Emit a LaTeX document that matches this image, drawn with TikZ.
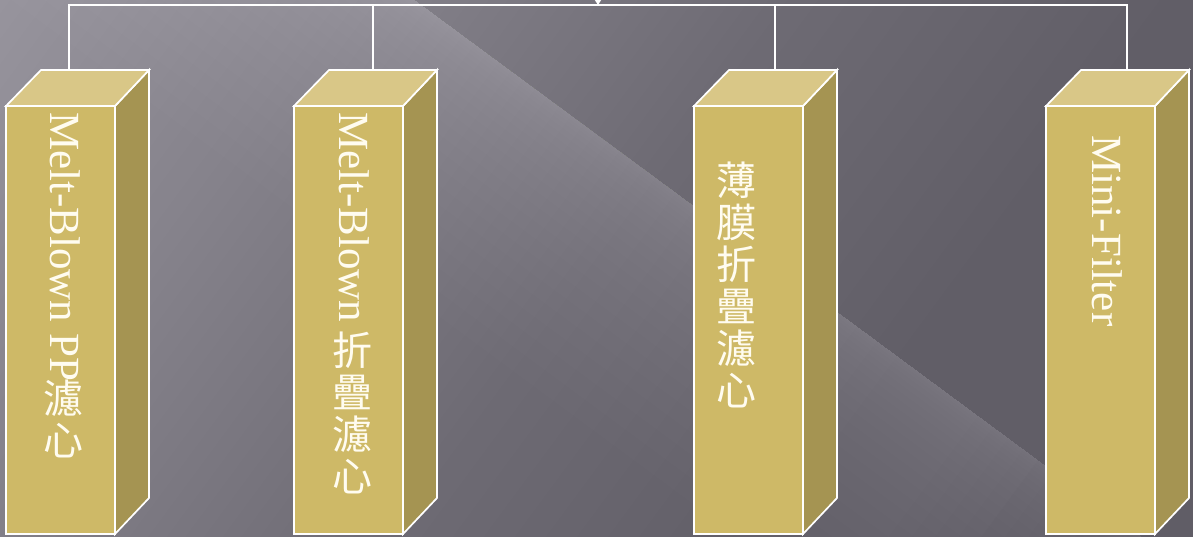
\documentclass[tikz,border=0pt]{standalone}
\usepackage{fontspec}
\setmainfont{Liberation Serif}
\newfontfamily\cjk{Noto Sans CJK TC}
\usetikzlibrary{arrows.meta}
\definecolor{frontc}{RGB}{206,185,103}
\definecolor{topc}{RGB}{217,199,135}
\definecolor{sidec}{RGB}{165,148,82}
\definecolor{txtc}{RGB}{255,252,240}
\tikzset{
  face/.style={draw=white, line width=1.7pt, line join=miter},
  frontbox/.style={face, fill=frontc, minimum width=109pt, minimum height=428pt,
    anchor=north west, inner sep=0pt, outer sep=0pt},
  wire/.style={draw=white, line width=2pt},
  lat/.style={text=txtc, font=\fontsize{43}{43}\selectfont, inner sep=0pt,
    rotate=-90, anchor=base west},
  cjkcol/.style={text=txtc, font=\cjk\fontsize{40}{42}\selectfont, inner sep=0pt,
    align=center, anchor=north},
}
\newcommand\cuboid[3]{%
  \node[frontbox] (#1) at (#2,106) {};
  \path[face, fill=sidec] (#1.north east) -- ++(34,-36) -- ++(0,428) -- (#1.south east) -- cycle;
  \path[face, fill=topc] (#1.north west) -- ++(35,-36) -- ++(108,0) -- (#1.north east) -- cycle;
  \coordinate (#1top) at (#3,70);
  \draw[wire] (root) -| (#1top);
}
\begin{document}
\begin{tikzpicture}[x=1pt,y=-1pt]
\useasboundingbox (0,0) rectangle (1193,536);
% background
\begin{scope}
\clip (0,0) rectangle (1193,536);
\begin{scope}[shift={(415,0)}, x={(0.804pt,-0.594pt)}, y={(-0.594pt,-0.804pt)}]
\foreach \i in {0,...,259} {
  \pgfmathsetmacro\bgta{-345+5*\i}
  \pgfmathsetmacro\bgtb{\bgta+5.8}
  \pgfmathsetmacro\bgtm{\bgta+2.5}
  \pgfmathsetmacro\bgv{\bgtm<0 ? 130+\bgtm/(-340)*22 : (\bgtm<300 ? 130-\bgtm/300*20 : (\bgtm<600 ? 110-(\bgtm-300)/300*12 : 98-(\bgtm-600)/350*2))}
  \pgfmathtruncatemacro\bgr{\bgv}
  \pgfmathtruncatemacro\bgg{\bgv-3}
  \pgfmathtruncatemacro\bgb{\bgv+6}
  \definecolor{bgtmp}{RGB}{\bgr,\bgg,\bgb}
  \fill[bgtmp] (\bgta,-700) -- (\bgtb,-700) -- (\bgtb,900) -- (\bgta,900) -- cycle;
}
\foreach \k in {1,...,24} {
  \pgfmathsetmacro\bgsk{240*(\k/24)^2}
  \pgfmathsetmacro\bgte{1150-450*\k/24}
  \fill[white, opacity=0.012] (-400,0) -- (\bgte,0) -- (\bgte,\bgsk) -- (-400,\bgsk) -- cycle;
}
\end{scope}
\end{scope}
% connectors
\coordinate (parent) at (598,-30);
\coordinate (root) at (598,5);
\draw[wire, -{Triangle[width=6pt,length=5pt]}] (parent) -- (root);
% boxes
\cuboid{b1}{6}{69}
\cuboid{b2}{294}{373}
\cuboid{b3}{694}{775}
\cuboid{b4}{1046}{1127}
% texts
\node[lat] (t1) at (50,112) {Melt-Blown PP};
\node[cjkcol] (c1) at (63,380) {濾\\心};
\node[lat] (t2) at (339,112) {Melt-Blown};
\node[cjkcol] (c2) at (352,332) {折\\疊\\濾\\心};
\node[cjkcol] (c3) at (736,162) {薄\\膜\\折\\疊\\濾\\心};
\node[lat] (t4) at (1092,135) {Mini-Filter};
\end{tikzpicture}
\end{document}
